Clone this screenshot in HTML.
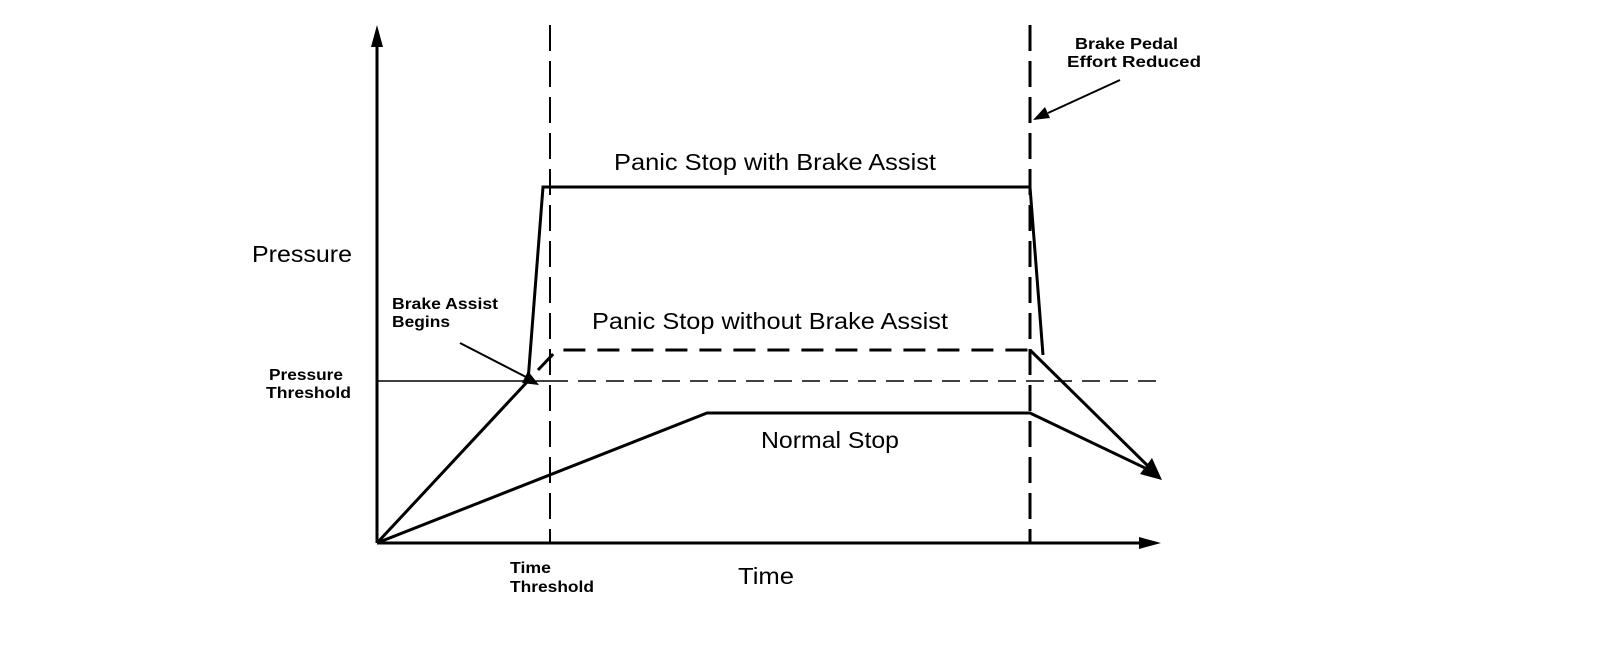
<!DOCTYPE html>
<html><head><style>body{margin:0;background:#fff}svg{display:block}text{font-family:"Liberation Sans",Arial,sans-serif;fill:#000}</style></head><body>
<svg width="1600" height="646" viewBox="0 0 1600 646" xmlns="http://www.w3.org/2000/svg">
<g stroke="#000" fill="none">
<line x1="377" y1="543" x2="377" y2="40" stroke-width="3"/>
<polygon points="377,25 371,47 383,47" fill="#000" stroke="none"/>
<line x1="377" y1="543" x2="1145" y2="543" stroke-width="3"/>
<polygon points="1161,543 1139,537 1139,549" fill="#000" stroke="none"/>
<line x1="550" y1="25" x2="550" y2="543" stroke-width="2" stroke-dasharray="26,10"/>
<line x1="1030" y1="25" x2="1030" y2="543" stroke-width="3" stroke-dasharray="26,10"/>
<line x1="377" y1="381" x2="550" y2="381" stroke-width="1.5"/>
<line x1="550" y1="381" x2="1157" y2="381" stroke-width="1.5" stroke-dasharray="18,10"/>
<polyline points="377,543 528,381 543,187 1030,187 1043,355" stroke-width="3"/>
<polyline points="538,370 557,350 1030,350" stroke-width="3" stroke-dasharray="22,12"/>
<line x1="1030" y1="350" x2="1150" y2="468" stroke-width="3"/>
<polyline points="377,543 707,413 1030,413 1145,468" stroke-width="3"/>
<polygon points="1162,480 1140,474 1152,458" fill="#000" stroke="none"/>
<line x1="460" y1="343" x2="528" y2="378" stroke-width="2"/>
<polygon points="539,385 522,383 528,371" fill="#000" stroke="none"/>
<line x1="1120" y1="80" x2="1048" y2="113" stroke-width="2"/>
<polygon points="1033,120 1045,107 1050,118" fill="#000" stroke="none"/>
</g>
<text x="614" y="170" font-size="23" textLength="322" lengthAdjust="spacingAndGlyphs">Panic Stop with Brake Assist</text>
<text x="592" y="329" font-size="23" textLength="356" lengthAdjust="spacingAndGlyphs">Panic Stop without Brake Assist</text>
<text x="761" y="448" font-size="23" textLength="138" lengthAdjust="spacingAndGlyphs">Normal Stop</text>
<text x="252" y="262" font-size="23" textLength="100" lengthAdjust="spacingAndGlyphs">Pressure</text>
<text x="738" y="584" font-size="23" textLength="56" lengthAdjust="spacingAndGlyphs">Time</text>
<g font-size="16" font-weight="bold">
<text x="392" y="309" textLength="106" lengthAdjust="spacingAndGlyphs">Brake Assist</text>
<text x="392" y="327" textLength="58" lengthAdjust="spacingAndGlyphs">Begins</text>
<text x="269" y="380" textLength="74" lengthAdjust="spacingAndGlyphs">Pressure</text>
<text x="266" y="398" textLength="85" lengthAdjust="spacingAndGlyphs">Threshold</text>
<text x="510" y="573" textLength="41" lengthAdjust="spacingAndGlyphs">Time</text>
<text x="510" y="592" textLength="84" lengthAdjust="spacingAndGlyphs">Threshold</text>
<text x="1075" y="49" textLength="103" lengthAdjust="spacingAndGlyphs">Brake Pedal</text>
<text x="1067" y="67" textLength="134" lengthAdjust="spacingAndGlyphs">Effort Reduced</text>
</g>
</svg>
</body></html>
